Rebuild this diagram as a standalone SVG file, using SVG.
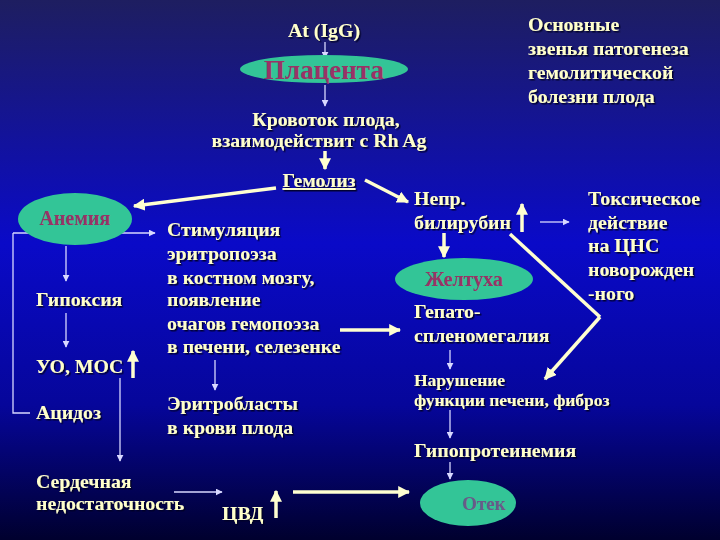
<svg xmlns="http://www.w3.org/2000/svg" width="720" height="540" viewBox="0 0 720 540">
<defs>
<linearGradient id="bg" x1="0" y1="0" x2="0" y2="1">
<stop offset="0" stop-color="#1e1e60"/>
<stop offset="0.45" stop-color="#0a0ac8"/>
<stop offset="0.75" stop-color="#06069a"/>
<stop offset="1" stop-color="#00002e"/>
</linearGradient>
<filter id="sh" x="-10%" y="-20%" width="130%" height="160%">
<feDropShadow dx="1.5" dy="1.5" stdDeviation="0.4" flood-color="#000020" flood-opacity="0.9"/>
</filter>
<marker id="thin" viewBox="0 0 10 10" refX="9" refY="5" markerWidth="7" markerHeight="7" markerUnits="userSpaceOnUse" orient="auto">
<path d="M0,0 L10,5 L0,10 z" fill="#d8d8ff"/>
</marker>
<marker id="thick" viewBox="0 0 10 10" refX="9" refY="5" markerWidth="12" markerHeight="12" markerUnits="userSpaceOnUse" orient="auto">
<path d="M0,0 L10,5 L0,10 z" fill="#ffffd0"/>
</marker>
</defs>
<style>
text{font-family:"Liberation Serif","Times New Roman",serif;font-weight:bold;fill:#ffffcc;font-size:19.8px;filter:url(#sh)}
.nt{fill:#993366;filter:none;text-anchor:middle}
.ell{fill:#33c597}
.tn{stroke:#d8d8ff;stroke-width:1.3;fill:none;marker-end:url(#thin)}
.tl{stroke:#d8d8ff;stroke-width:1.3;fill:none}
.tk{stroke:#ffffd0;stroke-width:3.5;fill:none;marker-end:url(#thick)}
.tkl{stroke:#ffffd0;stroke-width:3.5;fill:none}
</style>
<rect width="720" height="540" fill="url(#bg)"/>

<g id="title">
<text x="528" y="31">Основные</text>
<text x="528" y="55">звенья патогенеза</text>
<text x="528" y="79">гемолитической</text>
<text x="528" y="103">болезни плода</text>
</g>

<g id="connectors">
<line class="tn" x1="325" y1="42" x2="325" y2="58"/>
<line class="tn" x1="325" y1="85" x2="325" y2="106"/>
<line class="tk" x1="325" y1="151" x2="325" y2="169"/>
<line class="tk" x1="276" y1="188" x2="134" y2="206"/>
<line class="tk" x1="365" y1="180" x2="408" y2="202"/>
<polyline class="tn" points="13,233 155,233"/>
<polyline class="tl" points="13,233 13,413 30,413"/>
<line class="tn" x1="66" y1="246" x2="66" y2="281"/>
<line class="tn" x1="66" y1="313" x2="66" y2="347"/>
<line class="tk" x1="133" y1="378" x2="133" y2="351"/>
<line class="tn" x1="120" y1="378" x2="120" y2="461"/>
<line class="tn" x1="174" y1="492" x2="222" y2="492"/>
<line class="tk" x1="276" y1="518" x2="276" y2="491"/>
<line class="tk" x1="293" y1="492" x2="409" y2="492"/>
<line class="tk" x1="340" y1="330" x2="400" y2="330"/>
<line class="tn" x1="215" y1="360" x2="215" y2="390"/>
<line class="tk" x1="522" y1="232" x2="522" y2="204"/>
<line class="tn" x1="540" y1="222" x2="569" y2="222"/>
<line class="tk" x1="444" y1="233" x2="444" y2="257"/>
<polyline class="tkl" points="510,234 600,317"/>
<line class="tk" x1="600" y1="317" x2="545" y2="379"/>
<line class="tn" x1="450" y1="350" x2="450" y2="369"/>
<line class="tn" x1="450" y1="410" x2="450" y2="438"/>
<line class="tn" x1="450" y1="462" x2="450" y2="479"/>
</g>

<g id="n-atigg"><text x="324" y="37" text-anchor="middle">At (IgG)</text></g>
<g id="n-placenta">
<ellipse class="ell" cx="324" cy="69" rx="84" ry="14"/>
<text class="nt" x="324" y="79" style="font-size:27px">Плацента</text>
</g>
<g id="n-blood">
<text x="326" y="126" text-anchor="middle">Кровоток плода,</text>
<text x="319" y="147" text-anchor="middle">взаимодействит с Rh Ag</text>
</g>
<g id="n-hemolysis">
<text x="319" y="187" text-anchor="middle" text-decoration="underline">Гемолиз</text>
</g>
<g id="n-anemia">
<ellipse class="ell" cx="75" cy="219" rx="57" ry="26"/>
<text class="nt" x="75" y="225" style="font-size:20px">Анемия</text>
</g>
<g id="n-hypoxia"><text x="36" y="306">Гипоксия</text></g>
<g id="n-uo"><text x="36" y="373">УО, МОС</text></g>
<g id="n-acidosis"><text x="36" y="419">Ацидоз</text></g>
<g id="n-heart">
<text x="36" y="488">Сердечная</text>
<text x="36" y="510">недостаточность</text>
</g>
<g id="n-cvd"><text x="222" y="520">ЦВД</text></g>
<g id="n-stim">
<text x="167" y="236">Стимуляция</text>
<text x="167" y="260">эритропоэза</text>
<text x="167" y="284">в костном мозгу,</text>
<text x="167" y="306">появление</text>
<text x="167" y="330">очагов гемопоэза</text>
<text x="167" y="353">в печени, селезенке</text>
</g>
<g id="n-erythro">
<text x="167" y="410">Эритробласты</text>
<text x="167" y="434">в крови плода</text>
</g>
<g id="n-bilirubin">
<text x="414" y="205">Непр.</text>
<text x="414" y="229">билирубин</text>
</g>
<g id="n-toxic">
<text x="588" y="205">Токсическое</text>
<text x="588" y="229">действие</text>
<text x="588" y="252">на ЦНС</text>
<text x="588" y="276">новорожден</text>
<text x="588" y="300">-ного</text>
</g>
<g id="n-jaundice">
<ellipse class="ell" cx="464" cy="279" rx="69" ry="21"/>
<text class="nt" x="464" y="286" style="font-size:20px">Желтуха</text>
</g>
<g id="n-hepato">
<text x="414" y="318">Гепато-</text>
<text x="414" y="342">спленомегалия</text>
</g>
<g id="n-liver">
<text x="414" y="386" style="font-size:17.5px">Нарушение</text>
<text x="414" y="406" style="font-size:17.5px">функции печени, фиброз</text>
</g>
<g id="n-hypoprot"><text x="414" y="457">Гипопротеинемия</text></g>
<g id="n-edema">
<ellipse class="ell" cx="468" cy="503" rx="48" ry="23"/>
<text class="nt" x="484" y="510" style="font-size:19px;fill:#6a5a88">Отек</text>
</g>
</svg>
